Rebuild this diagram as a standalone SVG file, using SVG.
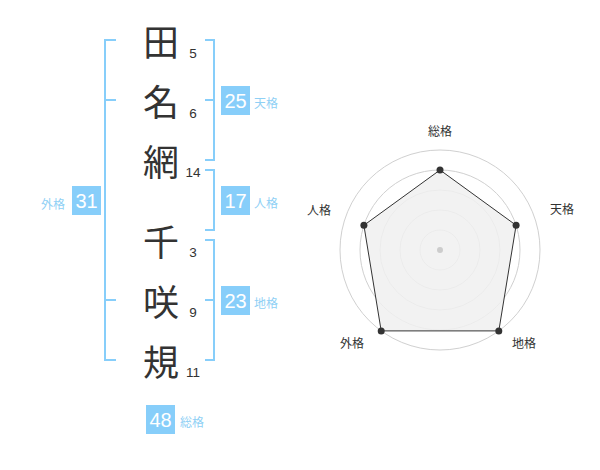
<svg xmlns="http://www.w3.org/2000/svg" width="600" height="470" viewBox="0 0 600 470">
<style>
.k{font-family:"Noto Sans CJK JP","Noto Sans CJK SC",sans-serif;font-size:36px;fill:#333;text-anchor:middle;dominant-baseline:central}
.n{font-family:"Liberation Sans",Arial,sans-serif;font-size:13.5px;fill:#333;text-anchor:middle}
.br{fill:none;stroke:#87cefa;stroke-width:2}
.box{fill:#87cefa}
.bn{font-family:"Liberation Sans",Arial,sans-serif;font-size:20px;fill:#fff;text-anchor:middle;dominant-baseline:central}
.bl{font-family:"Noto Sans CJK JP","Noto Sans CJK SC",sans-serif;font-size:12px;fill:#8fd0f5;dominant-baseline:central}
.rl{font-family:"Noto Sans CJK JP","Noto Sans CJK SC",sans-serif;font-size:12px;fill:#333;text-anchor:middle;dominant-baseline:central}
.ring{fill:none;stroke:#d0d0d0;stroke-width:1}
</style>
<g id="chars">
<g id="c1"><text class="k" x="161" y="40">田</text><text class="n" x="193" y="57.5">5</text></g>
<g id="c2"><text class="k" x="161" y="100">名</text><text class="n" x="193" y="117.5">6</text></g>
<g id="c3"><text class="k" x="161" y="160">網</text><text class="n" x="193" y="177">14</text></g>
<g id="c4"><text class="k" x="161" y="240">千</text><text class="n" x="193" y="257">3</text></g>
<g id="c5"><text class="k" x="161" y="300">咲</text><text class="n" x="193" y="317">9</text></g>
<g id="c6"><text class="k" x="161" y="360">規</text><text class="n" x="193" y="377">11</text></g>
</g>
<g id="brackets">
<path class="br" d="M116,40H105V360H116M105,100H116M105,300H116"/>
<path class="br" d="M205,40H214V160H205M205,100H214"/>
<path class="br" d="M205,170H214V230H205"/>
<path class="br" d="M205,240H214V360H205M205,300H214"/>
</g>
<g id="tenkaku"><rect class="box" x="221" y="86" width="29" height="29"/><text class="bn" x="235.5" y="101">25</text><text class="bl" x="254" y="102">天格</text></g>
<g id="jinkaku"><rect class="box" x="221" y="186" width="29" height="29"/><text class="bn" x="235.5" y="201">17</text><text class="bl" x="254" y="202">人格</text></g>
<g id="chikaku"><rect class="box" x="221" y="286" width="29" height="29"/><text class="bn" x="235.5" y="301">23</text><text class="bl" x="254" y="302">地格</text></g>
<g id="gaikaku"><rect class="box" x="72" y="186" width="29" height="29"/><text class="bn" x="86.5" y="201">31</text><text class="bl" x="41" y="203">外格</text></g>
<g id="soukaku"><rect class="box" x="146" y="405" width="29" height="29"/><text class="bn" x="160.5" y="420">48</text><text class="bl" x="180" y="421">総格</text></g>
<g id="radar">
<circle class="ring" cx="440" cy="250" r="100"/>
<circle class="ring" cx="440" cy="250" r="80"/>
<circle class="ring" cx="440" cy="250" r="60"/>
<circle class="ring" cx="440" cy="250" r="40"/>
<circle class="ring" cx="440" cy="250" r="20"/>
<polygon points="440,170 516.1,225.3 498.8,330.9 381.2,330.9 363.9,225.3" fill="#f0f0f0" fill-opacity="0.85" stroke="#333" stroke-width="1"/>
<circle cx="440" cy="250" r="3" fill="#ccc"/>
<g fill="#333">
<circle cx="440" cy="170" r="3.5"/>
<circle cx="516.1" cy="225.3" r="3.5"/>
<circle cx="498.8" cy="330.9" r="3.5"/>
<circle cx="381.2" cy="330.9" r="3.5"/>
<circle cx="363.9" cy="225.3" r="3.5"/>
</g>
<text class="rl" x="440" y="130">総格</text>
<text class="rl" x="562" y="208">天格</text>
<text class="rl" x="319" y="209">人格</text>
<text class="rl" x="352" y="342">外格</text>
<text class="rl" x="524" y="342">地格</text>
</g>
</svg>
